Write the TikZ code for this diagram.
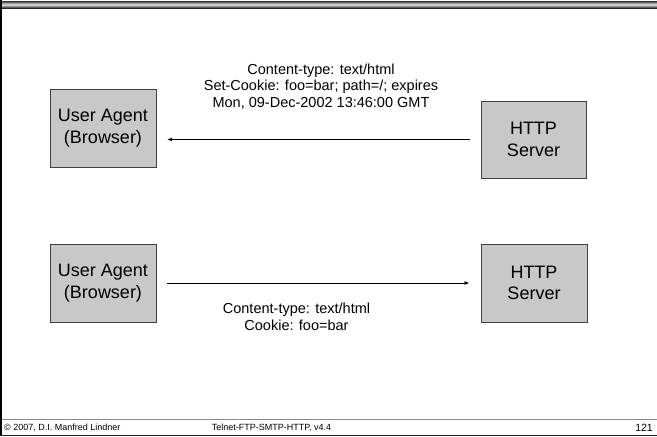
\documentclass[tikz,border=0pt]{standalone}
\usepackage{fontspec}
\setmainfont{Liberation Sans}
\usetikzlibrary{arrows.meta,calc}
\definecolor{boxfill}{HTML}{C8C8C8}
\definecolor{boxline}{HTML}{404040}
\tikzset{
  agentbox/.style={draw=boxline, line width=1pt, fill=boxfill, align=center,
    font=\fontsize{18}{21.5}\selectfont, inner sep=0pt},
  msg/.style={align=center, font=\fontsize{14.5}{16.8}\selectfont, inner sep=0pt},
  foot/.style={font=\fontsize{9}{10}\selectfont, inner sep=0pt, anchor=base west},
  arr/.style={line width=0.8pt, -{Latex[length=5pt,width=4pt]}}
}
\begin{document}
\begin{tikzpicture}[x=1pt,y=-1pt]
\fill[white] (0,0) rectangle (657,437);
\useasboundingbox (0,0) rectangle (657,437);
% top band
\shade[top color=black!80, bottom color=black!85, middle color=black!10] (0,1) rectangle (657,8);
% left border, footer lines
\draw[line width=1.6pt, black] (1.2,0) -- (1.2,435);
\draw[line width=0.6pt, black!45] (2,419.5) -- (657,419.5);
\draw[line width=1.3pt, black!85] (0,435.3) -- (657,435.3);
% boxes
\node[agentbox, minimum width=106pt, minimum height=78pt] (ua1) at (103,128) {User Agent\\(Browser)};
\node[agentbox, minimum width=105pt, minimum height=77pt] (srv1) at (533.5,139.5) {HTTP\\Server};
\node[agentbox, minimum width=106pt, minimum height=78pt] (ua2) at (103,283) {User Agent\\(Browser)};
\node[agentbox, minimum width=106pt, minimum height=78pt] (srv2) at (534,283) {HTTP\\Server};
% arrows
\coordinate (a1s) at ($(srv1.west)+(-11,0)$);
\coordinate (a1e) at ($(ua1.east |- srv1.west)+(10.7,0)$);
\draw[arr] (a1s) -- (a1e);
\coordinate (a2s) at ($(ua2.east)+(10.7,0)$);
\coordinate (a2e) at ($(srv2.west)+(-11,0)$);
\draw[arr] (a2s) -- (a2e);
% labels
\node[msg] (m1) at (321,86.5) {Content-type: text/html\\Set-Cookie: foo=bar; path=/; expires\\Mon, 09-Dec-2002 13:46:00 GMT};
\node[msg] (m2) at (296.5,317) {Content-type: text/html\\Cookie: foo=bar};
% footer
\node[foot] (f1) at (4,430) {© 2007, D.I. Manfred Lindner};
\node[foot, anchor=base] (f2) at (271.5,430) {Telnet-FTP-SMTP-HTTP, v4.4};
\node[foot, anchor=base east, font=\fontsize{10.5}{12}\selectfont] (f3) at (653,431.5) {121};
\end{tikzpicture}
\end{document}
